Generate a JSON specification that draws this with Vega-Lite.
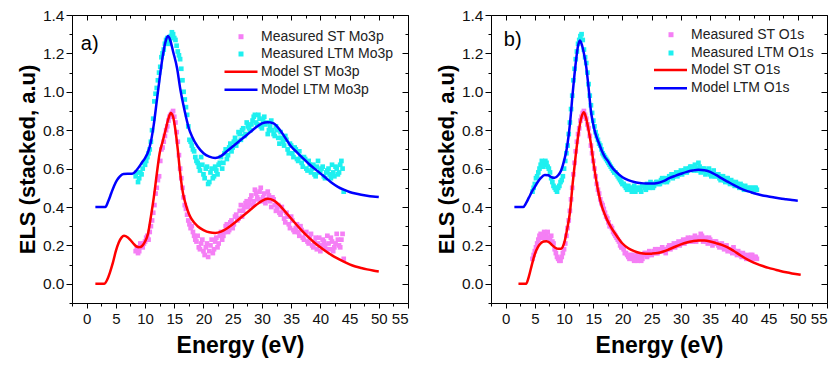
{
"$schema": "https://vega.github.io/schema/vega-lite/v6.json",
"padding": {"left": 15, "top": 7, "right": 2, "bottom": 2},
"spacing": 25,
"config": {
  "font": "Liberation Sans",
  "view": {"stroke": "#000", "strokeWidth": 1},
  "axis": {"labelFont": "Liberation Sans", "titleFont": "Liberation Sans", "labelColor": "#111", "titleColor": "#000", "tickColor": "#000", "grid": false, "domain": false, "tickWidth": 1},
  "legend": {"labelFont": "Liberation Sans", "labelColor": "#222", "labelFontSize": 14}
},
"datasets": {
"measA": [
{"E":8.4,"ST":0.17,"LTM":0.56},{"E":8.8,"ST":0.16,"LTM":0.53},{"E":9.2,"ST":0.21,"LTM":0.58},{"E":9.6,"ST":0.19,"LTM":0.6},{"E":10.0,"ST":0.22,"LTM":0.62},{"E":10.4,"ST":0.25,"LTM":0.66},{"E":10.8,"ST":0.27,"LTM":0.7},{"E":11.2,"ST":0.33,"LTM":0.8},{"E":11.6,"ST":0.41,"LTM":0.95},{"E":12.0,"ST":0.5,"LTM":1.02},{"E":12.4,"ST":0.56,"LTM":1.1},{"E":12.8,"ST":0.7,"LTM":1.18},{"E":13.2,"ST":0.74,"LTM":1.22},{"E":13.6,"ST":0.8,"LTM":1.27},{"E":14.0,"ST":0.85,"LTM":1.25},{"E":14.4,"ST":0.88,"LTM":1.29},{"E":14.8,"ST":0.9,"LTM":1.3},{"E":15.2,"ST":0.84,"LTM":1.27},{"E":15.6,"ST":0.74,"LTM":1.21},{"E":16.0,"ST":0.6,"LTM":1.17},{"E":16.4,"ST":0.5,"LTM":1.06},{"E":16.8,"ST":0.41,"LTM":0.96},{"E":17.2,"ST":0.36,"LTM":0.88},{"E":17.6,"ST":0.31,"LTM":0.75},{"E":18.0,"ST":0.3,"LTM":0.72},{"E":18.4,"ST":0.25,"LTM":0.69},{"E":18.8,"ST":0.22,"LTM":0.64},{"E":19.2,"ST":0.19,"LTM":0.61},{"E":19.6,"ST":0.21,"LTM":0.66},{"E":20.0,"ST":0.17,"LTM":0.57},{"E":20.4,"ST":0.19,"LTM":0.6},{"E":20.8,"ST":0.14,"LTM":0.52},{"E":21.2,"ST":0.2,"LTM":0.58},{"E":21.6,"ST":0.16,"LTM":0.55},{"E":22.0,"ST":0.22,"LTM":0.61},{"E":22.4,"ST":0.19,"LTM":0.57},{"E":22.8,"ST":0.25,"LTM":0.63},{"E":23.2,"ST":0.23,"LTM":0.6},{"E":23.6,"ST":0.27,"LTM":0.68},{"E":24.0,"ST":0.31,"LTM":0.65},{"E":24.4,"ST":0.28,"LTM":0.71},{"E":24.8,"ST":0.33,"LTM":0.69},{"E":25.2,"ST":0.31,"LTM":0.74},{"E":25.6,"ST":0.36,"LTM":0.72},{"E":26.0,"ST":0.34,"LTM":0.79},{"E":26.4,"ST":0.41,"LTM":0.75},{"E":26.8,"ST":0.38,"LTM":0.81},{"E":27.2,"ST":0.42,"LTM":0.78},{"E":27.6,"ST":0.4,"LTM":0.82},{"E":28.0,"ST":0.44,"LTM":0.8},{"E":28.4,"ST":0.41,"LTM":0.85},{"E":28.8,"ST":0.49,"LTM":0.88},{"E":29.2,"ST":0.45,"LTM":0.83},{"E":29.6,"ST":0.48,"LTM":0.86},{"E":30.0,"ST":0.43,"LTM":0.81},{"E":30.4,"ST":0.47,"LTM":0.87},{"E":30.8,"ST":0.44,"LTM":0.84},{"E":31.2,"ST":0.46,"LTM":0.8},{"E":31.6,"ST":0.4,"LTM":0.85},{"E":32.0,"ST":0.44,"LTM":0.78},{"E":32.4,"ST":0.38,"LTM":0.82},{"E":32.8,"ST":0.41,"LTM":0.76},{"E":33.2,"ST":0.36,"LTM":0.79},{"E":33.6,"ST":0.38,"LTM":0.74},{"E":34.0,"ST":0.32,"LTM":0.77},{"E":34.4,"ST":0.35,"LTM":0.7},{"E":34.8,"ST":0.29,"LTM":0.73},{"E":35.2,"ST":0.33,"LTM":0.68},{"E":35.6,"ST":0.27,"LTM":0.71},{"E":36.0,"ST":0.31,"LTM":0.65},{"E":36.4,"ST":0.25,"LTM":0.69},{"E":36.8,"ST":0.28,"LTM":0.63},{"E":37.2,"ST":0.23,"LTM":0.66},{"E":37.6,"ST":0.27,"LTM":0.6},{"E":38.0,"ST":0.21,"LTM":0.64},{"E":38.4,"ST":0.26,"LTM":0.58},{"E":38.8,"ST":0.19,"LTM":0.62},{"E":39.2,"ST":0.24,"LTM":0.56},{"E":39.6,"ST":0.21,"LTM":0.64},{"E":40.0,"ST":0.17,"LTM":0.59},{"E":40.4,"ST":0.23,"LTM":0.61},{"E":40.8,"ST":0.2,"LTM":0.55},{"E":41.2,"ST":0.25,"LTM":0.59},{"E":41.6,"ST":0.18,"LTM":0.57},{"E":42.0,"ST":0.22,"LTM":0.62},{"E":42.4,"ST":0.19,"LTM":0.56},{"E":42.8,"ST":0.26,"LTM":0.6},{"E":43.2,"ST":0.2,"LTM":0.58},{"E":43.6,"ST":0.23,"LTM":0.64},{"E":44.0,"ST":0.13,"LTM":0.48},
{"E":8.6,"ST":0.19,"LTM":0.58},{"E":9.0,"ST":0.17,"LTM":0.55},{"E":9.4,"ST":0.2,"LTM":0.57},{"E":9.8,"ST":0.21,"LTM":0.63},{"E":10.2,"ST":0.24,"LTM":0.64},{"E":10.6,"ST":0.23,"LTM":0.68},{"E":11.0,"ST":0.3,"LTM":0.74},{"E":11.4,"ST":0.37,"LTM":0.86},{"E":11.8,"ST":0.47,"LTM":0.99},{"E":12.2,"ST":0.54,"LTM":1.06},{"E":12.6,"ST":0.64,"LTM":1.13},{"E":13.0,"ST":0.71,"LTM":1.2},{"E":13.4,"ST":0.77,"LTM":1.25},{"E":13.8,"ST":0.82,"LTM":1.28},{"E":14.2,"ST":0.87,"LTM":1.27},{"E":14.6,"ST":0.89,"LTM":1.31},{"E":15.0,"ST":0.87,"LTM":1.28},{"E":15.4,"ST":0.79,"LTM":1.24},{"E":15.8,"ST":0.67,"LTM":1.19},{"E":16.2,"ST":0.55,"LTM":1.12},{"E":16.6,"ST":0.45,"LTM":1.0},{"E":17.0,"ST":0.39,"LTM":0.92},{"E":17.4,"ST":0.33,"LTM":0.82},{"E":17.8,"ST":0.29,"LTM":0.74},{"E":18.2,"ST":0.27,"LTM":0.7},{"E":18.6,"ST":0.23,"LTM":0.66},{"E":19.0,"ST":0.25,"LTM":0.63},{"E":19.4,"ST":0.18,"LTM":0.59},{"E":19.8,"ST":0.23,"LTM":0.62},{"E":20.2,"ST":0.15,"LTM":0.55},{"E":20.6,"ST":0.21,"LTM":0.61},{"E":21.0,"ST":0.17,"LTM":0.53},{"E":21.4,"ST":0.23,"LTM":0.6},{"E":21.8,"ST":0.18,"LTM":0.56},{"E":22.2,"ST":0.24,"LTM":0.59},{"E":22.6,"ST":0.21,"LTM":0.62},{"E":23.0,"ST":0.27,"LTM":0.66},{"E":23.4,"ST":0.25,"LTM":0.63},{"E":23.8,"ST":0.3,"LTM":0.7},{"E":24.2,"ST":0.27,"LTM":0.67},{"E":24.6,"ST":0.32,"LTM":0.73},{"E":25.0,"ST":0.29,"LTM":0.71},{"E":25.4,"ST":0.35,"LTM":0.76},{"E":25.8,"ST":0.33,"LTM":0.74},{"E":26.2,"ST":0.38,"LTM":0.78},{"E":26.6,"ST":0.35,"LTM":0.8},{"E":27.0,"ST":0.4,"LTM":0.77},{"E":27.4,"ST":0.43,"LTM":0.84},{"E":27.8,"ST":0.42,"LTM":0.81},{"E":28.2,"ST":0.46,"LTM":0.83},{"E":28.6,"ST":0.43,"LTM":0.87},{"E":29.0,"ST":0.47,"LTM":0.84},{"E":29.4,"ST":0.44,"LTM":0.88},{"E":29.8,"ST":0.5,"LTM":0.82},{"E":30.2,"ST":0.45,"LTM":0.85},{"E":30.6,"ST":0.42,"LTM":0.83},{"E":31.0,"ST":0.48,"LTM":0.78},{"E":31.4,"ST":0.43,"LTM":0.82},{"E":31.8,"ST":0.45,"LTM":0.8},{"E":32.2,"ST":0.41,"LTM":0.77},{"E":32.6,"ST":0.39,"LTM":0.8},{"E":33.0,"ST":0.37,"LTM":0.73},{"E":33.4,"ST":0.4,"LTM":0.76},{"E":33.8,"ST":0.34,"LTM":0.72},{"E":34.2,"ST":0.37,"LTM":0.75},{"E":34.6,"ST":0.31,"LTM":0.68},{"E":35.0,"ST":0.35,"LTM":0.72},{"E":35.4,"ST":0.28,"LTM":0.66},{"E":35.8,"ST":0.29,"LTM":0.7},{"E":36.2,"ST":0.27,"LTM":0.64},{"E":36.6,"ST":0.3,"LTM":0.66},{"E":37.0,"ST":0.24,"LTM":0.61},{"E":37.4,"ST":0.26,"LTM":0.65},{"E":37.8,"ST":0.22,"LTM":0.59},{"E":38.2,"ST":0.24,"LTM":0.62},{"E":38.6,"ST":0.2,"LTM":0.6},{"E":39.0,"ST":0.22,"LTM":0.57},{"E":39.4,"ST":0.18,"LTM":0.61},{"E":39.8,"ST":0.24,"LTM":0.58},{"E":40.2,"ST":0.2,"LTM":0.6},{"E":40.6,"ST":0.22,"LTM":0.56},{"E":41.0,"ST":0.18,"LTM":0.58},{"E":41.4,"ST":0.21,"LTM":0.6},{"E":41.8,"ST":0.24,"LTM":0.55},{"E":42.2,"ST":0.17,"LTM":0.58},{"E":42.6,"ST":0.21,"LTM":0.61},{"E":43.0,"ST":0.23,"LTM":0.57},{"E":43.4,"ST":0.19,"LTM":0.62},{"E":43.8,"ST":0.26,"LTM":0.6}
],
"modelA": [
{"m":"Model ST","E":1.5,"v":0},{"m":"Model ST","E":3.0,"v":0},{"m":"Model ST","E":3.5,"v":0.02},{"m":"Model ST","E":4,"v":0.06},{"m":"Model ST","E":4.5,"v":0.11},{"m":"Model ST","E":5,"v":0.17},{"m":"Model ST","E":5.5,"v":0.215},{"m":"Model ST","E":6,"v":0.242},{"m":"Model ST","E":6.4,"v":0.25},{"m":"Model ST","E":7,"v":0.243},{"m":"Model ST","E":7.5,"v":0.228},{"m":"Model ST","E":8,"v":0.21},{"m":"Model ST","E":8.5,"v":0.195},{"m":"Model ST","E":9,"v":0.19},{"m":"Model ST","E":9.5,"v":0.197},{"m":"Model ST","E":10,"v":0.22},{"m":"Model ST","E":10.5,"v":0.26},{"m":"Model ST","E":11,"v":0.35},{"m":"Model ST","E":11.5,"v":0.45},{"m":"Model ST","E":12,"v":0.57},{"m":"Model ST","E":12.5,"v":0.68},{"m":"Model ST","E":13,"v":0.74},{"m":"Model ST","E":13.5,"v":0.8},{"m":"Model ST","E":14,"v":0.86},{"m":"Model ST","E":14.4,"v":0.89},{"m":"Model ST","E":14.8,"v":0.87},{"m":"Model ST","E":15.2,"v":0.8},{"m":"Model ST","E":15.6,"v":0.7},{"m":"Model ST","E":16,"v":0.58},{"m":"Model ST","E":16.5,"v":0.47},{"m":"Model ST","E":17,"v":0.41},{"m":"Model ST","E":17.5,"v":0.365},{"m":"Model ST","E":18,"v":0.335},{"m":"Model ST","E":19,"v":0.3},{"m":"Model ST","E":20,"v":0.28},{"m":"Model ST","E":21,"v":0.268},{"m":"Model ST","E":22,"v":0.265},{"m":"Model ST","E":23,"v":0.272},{"m":"Model ST","E":24,"v":0.288},{"m":"Model ST","E":25,"v":0.31},{"m":"Model ST","E":26,"v":0.335},{"m":"Model ST","E":27,"v":0.36},{"m":"Model ST","E":28,"v":0.385},{"m":"Model ST","E":29,"v":0.41},{"m":"Model ST","E":30,"v":0.432},{"m":"Model ST","E":31,"v":0.443},{"m":"Model ST","E":32,"v":0.435},{"m":"Model ST","E":33,"v":0.41},{"m":"Model ST","E":34,"v":0.375},{"m":"Model ST","E":35,"v":0.34},{"m":"Model ST","E":36,"v":0.305},{"m":"Model ST","E":37,"v":0.272},{"m":"Model ST","E":38,"v":0.242},{"m":"Model ST","E":39,"v":0.214},{"m":"Model ST","E":40,"v":0.19},{"m":"Model ST","E":41,"v":0.168},{"m":"Model ST","E":42,"v":0.148},{"m":"Model ST","E":43,"v":0.131},{"m":"Model ST","E":44,"v":0.115},{"m":"Model ST","E":45,"v":0.101},{"m":"Model ST","E":46,"v":0.09},{"m":"Model ST","E":47,"v":0.082},{"m":"Model ST","E":48,"v":0.075},{"m":"Model ST","E":49,"v":0.069},{"m":"Model ST","E":50,"v":0.064},
{"m":"Model LTM","E":1.5,"v":0.4},{"m":"Model LTM","E":3.2,"v":0.4},{"m":"Model LTM","E":3.7,"v":0.43},{"m":"Model LTM","E":4.2,"v":0.47},{"m":"Model LTM","E":4.7,"v":0.51},{"m":"Model LTM","E":5.2,"v":0.54},{"m":"Model LTM","E":5.7,"v":0.56},{"m":"Model LTM","E":6.3,"v":0.572},{"m":"Model LTM","E":7,"v":0.573},{"m":"Model LTM","E":7.8,"v":0.573},{"m":"Model LTM","E":8.5,"v":0.59},{"m":"Model LTM","E":9,"v":0.61},{"m":"Model LTM","E":9.5,"v":0.633},{"m":"Model LTM","E":10,"v":0.655},{"m":"Model LTM","E":10.5,"v":0.685},{"m":"Model LTM","E":11,"v":0.74},{"m":"Model LTM","E":11.5,"v":0.83},{"m":"Model LTM","E":12,"v":0.95},{"m":"Model LTM","E":12.5,"v":1.07},{"m":"Model LTM","E":13,"v":1.18},{"m":"Model LTM","E":13.5,"v":1.26},{"m":"Model LTM","E":13.9,"v":1.29},{"m":"Model LTM","E":14.3,"v":1.27},{"m":"Model LTM","E":14.8,"v":1.21},{"m":"Model LTM","E":15.5,"v":1.12},{"m":"Model LTM","E":16,"v":1.02},{"m":"Model LTM","E":16.5,"v":0.94},{"m":"Model LTM","E":17,"v":0.87},{"m":"Model LTM","E":17.5,"v":0.81},{"m":"Model LTM","E":18,"v":0.77},{"m":"Model LTM","E":19,"v":0.715},{"m":"Model LTM","E":20,"v":0.68},{"m":"Model LTM","E":21,"v":0.662},{"m":"Model LTM","E":22,"v":0.655},{"m":"Model LTM","E":23,"v":0.665},{"m":"Model LTM","E":24,"v":0.69},{"m":"Model LTM","E":25,"v":0.715},{"m":"Model LTM","E":26,"v":0.74},{"m":"Model LTM","E":27,"v":0.765},{"m":"Model LTM","E":28,"v":0.79},{"m":"Model LTM","E":29,"v":0.815},{"m":"Model LTM","E":30,"v":0.835},{"m":"Model LTM","E":31,"v":0.842},{"m":"Model LTM","E":32,"v":0.835},{"m":"Model LTM","E":33,"v":0.805},{"m":"Model LTM","E":34,"v":0.76},{"m":"Model LTM","E":35,"v":0.715},{"m":"Model LTM","E":36,"v":0.685},{"m":"Model LTM","E":37,"v":0.655},{"m":"Model LTM","E":38,"v":0.625},{"m":"Model LTM","E":39,"v":0.6},{"m":"Model LTM","E":40,"v":0.575},{"m":"Model LTM","E":41,"v":0.55},{"m":"Model LTM","E":42,"v":0.525},{"m":"Model LTM","E":43,"v":0.505},{"m":"Model LTM","E":44,"v":0.49},{"m":"Model LTM","E":45,"v":0.478},{"m":"Model LTM","E":46,"v":0.47},{"m":"Model LTM","E":47,"v":0.464},{"m":"Model LTM","E":48,"v":0.459},{"m":"Model LTM","E":49,"v":0.455},{"m":"Model LTM","E":50,"v":0.452}
],
"measB": [
{"E":4.6,"ST":0.13,"LTM":0.48},{"E":5.0,"ST":0.17,"LTM":0.52},{"E":5.4,"ST":0.21,"LTM":0.56},{"E":5.8,"ST":0.25,"LTM":0.6},{"E":6.2,"ST":0.24,"LTM":0.64},{"E":6.6,"ST":0.27,"LTM":0.62},{"E":7.0,"ST":0.26,"LTM":0.63},{"E":7.4,"ST":0.24,"LTM":0.6},{"E":7.8,"ST":0.25,"LTM":0.55},{"E":8.2,"ST":0.21,"LTM":0.51},{"E":8.6,"ST":0.16,"LTM":0.49},{"E":9.0,"ST":0.13,"LTM":0.5},{"E":9.4,"ST":0.12,"LTM":0.53},{"E":9.8,"ST":0.16,"LTM":0.56},{"E":10.2,"ST":0.21,"LTM":0.64},{"E":10.6,"ST":0.29,"LTM":0.72},{"E":11.0,"ST":0.38,"LTM":0.84},{"E":11.4,"ST":0.5,"LTM":0.98},{"E":11.8,"ST":0.63,"LTM":1.12},{"E":12.2,"ST":0.74,"LTM":1.21},{"E":12.6,"ST":0.81,"LTM":1.27},{"E":13.0,"ST":0.87,"LTM":1.3},{"E":13.4,"ST":0.9,"LTM":1.22},{"E":13.8,"ST":0.86,"LTM":1.15},{"E":14.2,"ST":0.81,"LTM":1.04},{"E":14.6,"ST":0.72,"LTM":0.93},{"E":15.0,"ST":0.64,"LTM":0.85},{"E":15.4,"ST":0.56,"LTM":0.79},{"E":15.8,"ST":0.49,"LTM":0.75},{"E":16.2,"ST":0.44,"LTM":0.72},{"E":16.6,"ST":0.41,"LTM":0.68},{"E":17.0,"ST":0.37,"LTM":0.66},{"E":17.4,"ST":0.34,"LTM":0.64},{"E":17.8,"ST":0.3,"LTM":0.62},{"E":18.2,"ST":0.29,"LTM":0.6},{"E":18.6,"ST":0.26,"LTM":0.58},{"E":19.0,"ST":0.24,"LTM":0.57},{"E":19.4,"ST":0.22,"LTM":0.55},{"E":19.8,"ST":0.19,"LTM":0.53},{"E":20.2,"ST":0.18,"LTM":0.52},{"E":20.6,"ST":0.16,"LTM":0.5},{"E":21.0,"ST":0.14,"LTM":0.51},{"E":21.4,"ST":0.15,"LTM":0.49},{"E":21.8,"ST":0.13,"LTM":0.5},{"E":22.2,"ST":0.14,"LTM":0.48},{"E":22.6,"ST":0.12,"LTM":0.5},{"E":23.0,"ST":0.15,"LTM":0.49},{"E":23.4,"ST":0.13,"LTM":0.51},{"E":23.8,"ST":0.16,"LTM":0.5},{"E":24.2,"ST":0.14,"LTM":0.52},{"E":24.6,"ST":0.17,"LTM":0.5},{"E":25.0,"ST":0.15,"LTM":0.52},{"E":25.4,"ST":0.17,"LTM":0.51},{"E":25.8,"ST":0.16,"LTM":0.53},{"E":26.2,"ST":0.18,"LTM":0.52},{"E":26.6,"ST":0.17,"LTM":0.54},{"E":27.0,"ST":0.18,"LTM":0.53},{"E":27.4,"ST":0.16,"LTM":0.55},{"E":27.8,"ST":0.19,"LTM":0.54},{"E":28.2,"ST":0.18,"LTM":0.56},{"E":28.6,"ST":0.2,"LTM":0.55},{"E":29.0,"ST":0.19,"LTM":0.57},{"E":29.4,"ST":0.21,"LTM":0.56},{"E":29.8,"ST":0.2,"LTM":0.58},{"E":30.2,"ST":0.22,"LTM":0.57},{"E":30.6,"ST":0.21,"LTM":0.59},{"E":31.0,"ST":0.23,"LTM":0.58},{"E":31.4,"ST":0.22,"LTM":0.6},{"E":31.8,"ST":0.24,"LTM":0.61},{"E":32.2,"ST":0.23,"LTM":0.59},{"E":32.6,"ST":0.22,"LTM":0.6},{"E":33.0,"ST":0.24,"LTM":0.63},{"E":33.4,"ST":0.26,"LTM":0.58},{"E":33.8,"ST":0.22,"LTM":0.6},{"E":34.2,"ST":0.24,"LTM":0.57},{"E":34.6,"ST":0.21,"LTM":0.59},{"E":35.0,"ST":0.23,"LTM":0.57},{"E":35.4,"ST":0.2,"LTM":0.58},{"E":35.8,"ST":0.22,"LTM":0.56},{"E":36.2,"ST":0.21,"LTM":0.57},{"E":36.6,"ST":0.19,"LTM":0.55},{"E":37.0,"ST":0.21,"LTM":0.56},{"E":37.4,"ST":0.18,"LTM":0.54},{"E":37.8,"ST":0.2,"LTM":0.55},{"E":38.2,"ST":0.18,"LTM":0.53},{"E":38.6,"ST":0.17,"LTM":0.54},{"E":39.0,"ST":0.19,"LTM":0.52},{"E":39.4,"ST":0.16,"LTM":0.53},{"E":39.8,"ST":0.17,"LTM":0.51},{"E":40.2,"ST":0.15,"LTM":0.52},{"E":40.6,"ST":0.16,"LTM":0.5},{"E":41.0,"ST":0.14,"LTM":0.51},{"E":41.4,"ST":0.15,"LTM":0.49},{"E":41.8,"ST":0.13,"LTM":0.5},{"E":42.2,"ST":0.15,"LTM":0.49},{"E":42.6,"ST":0.14,"LTM":0.5},{"E":43.0,"ST":0.13,"LTM":0.49},
{"E":4.8,"ST":0.15,"LTM":0.5},{"E":5.2,"ST":0.19,"LTM":0.55},{"E":5.6,"ST":0.23,"LTM":0.58},{"E":6.0,"ST":0.26,"LTM":0.62},{"E":6.4,"ST":0.25,"LTM":0.61},{"E":6.8,"ST":0.24,"LTM":0.64},{"E":7.2,"ST":0.27,"LTM":0.61},{"E":7.6,"ST":0.23,"LTM":0.58},{"E":8.0,"ST":0.22,"LTM":0.53},{"E":8.4,"ST":0.18,"LTM":0.5},{"E":8.8,"ST":0.14,"LTM":0.48},{"E":9.2,"ST":0.12,"LTM":0.51},{"E":9.6,"ST":0.14,"LTM":0.54},{"E":10.0,"ST":0.18,"LTM":0.6},{"E":10.4,"ST":0.25,"LTM":0.68},{"E":10.8,"ST":0.33,"LTM":0.78},{"E":11.2,"ST":0.44,"LTM":0.91},{"E":11.6,"ST":0.57,"LTM":1.06},{"E":12.0,"ST":0.69,"LTM":1.17},{"E":12.4,"ST":0.78,"LTM":1.25},{"E":12.8,"ST":0.85,"LTM":1.29},{"E":13.2,"ST":0.89,"LTM":1.27},{"E":13.6,"ST":0.88,"LTM":1.18},{"E":14.0,"ST":0.83,"LTM":1.1},{"E":14.4,"ST":0.77,"LTM":0.98},{"E":14.8,"ST":0.68,"LTM":0.89},{"E":15.2,"ST":0.6,"LTM":0.82},{"E":15.6,"ST":0.52,"LTM":0.77},{"E":16.0,"ST":0.47,"LTM":0.73},{"E":16.4,"ST":0.42,"LTM":0.7},{"E":16.8,"ST":0.39,"LTM":0.67},{"E":17.2,"ST":0.35,"LTM":0.65},{"E":17.6,"ST":0.32,"LTM":0.63},{"E":18.0,"ST":0.3,"LTM":0.61},{"E":18.4,"ST":0.27,"LTM":0.59},{"E":18.8,"ST":0.25,"LTM":0.58},{"E":19.2,"ST":0.23,"LTM":0.56},{"E":19.6,"ST":0.2,"LTM":0.54},{"E":20.0,"ST":0.19,"LTM":0.52},{"E":20.4,"ST":0.16,"LTM":0.51},{"E":20.8,"ST":0.15,"LTM":0.49},{"E":21.2,"ST":0.13,"LTM":0.5},{"E":21.6,"ST":0.15,"LTM":0.48},{"E":22.0,"ST":0.12,"LTM":0.51},{"E":22.4,"ST":0.15,"LTM":0.49},{"E":22.8,"ST":0.14,"LTM":0.5},{"E":23.2,"ST":0.12,"LTM":0.48},{"E":23.6,"ST":0.15,"LTM":0.51},{"E":24.0,"ST":0.16,"LTM":0.49},{"E":24.4,"ST":0.15,"LTM":0.51},{"E":24.8,"ST":0.16,"LTM":0.53},{"E":25.2,"ST":0.16,"LTM":0.5},{"E":25.6,"ST":0.18,"LTM":0.52},{"E":26.0,"ST":0.16,"LTM":0.53},{"E":26.4,"ST":0.17,"LTM":0.52},{"E":26.8,"ST":0.19,"LTM":0.55},{"E":27.2,"ST":0.17,"LTM":0.54},{"E":27.6,"ST":0.18,"LTM":0.53},{"E":28.0,"ST":0.2,"LTM":0.56},{"E":28.4,"ST":0.19,"LTM":0.57},{"E":28.8,"ST":0.21,"LTM":0.56},{"E":29.2,"ST":0.2,"LTM":0.58},{"E":29.6,"ST":0.22,"LTM":0.57},{"E":30.0,"ST":0.21,"LTM":0.59},{"E":30.4,"ST":0.23,"LTM":0.58},{"E":30.8,"ST":0.22,"LTM":0.6},{"E":31.2,"ST":0.24,"LTM":0.59},{"E":31.6,"ST":0.23,"LTM":0.61},{"E":32.0,"ST":0.22,"LTM":0.6},{"E":32.4,"ST":0.25,"LTM":0.62},{"E":32.8,"ST":0.23,"LTM":0.59},{"E":33.2,"ST":0.24,"LTM":0.61},{"E":33.6,"ST":0.25,"LTM":0.59},{"E":34.0,"ST":0.23,"LTM":0.6},{"E":34.4,"ST":0.22,"LTM":0.58},{"E":34.8,"ST":0.24,"LTM":0.6},{"E":35.2,"ST":0.22,"LTM":0.56},{"E":35.6,"ST":0.21,"LTM":0.59},{"E":36.0,"ST":0.22,"LTM":0.56},{"E":36.4,"ST":0.2,"LTM":0.57},{"E":36.8,"ST":0.2,"LTM":0.54},{"E":37.2,"ST":0.19,"LTM":0.56},{"E":37.6,"ST":0.19,"LTM":0.53},{"E":38.0,"ST":0.17,"LTM":0.55},{"E":38.4,"ST":0.18,"LTM":0.52},{"E":38.8,"ST":0.16,"LTM":0.53},{"E":39.2,"ST":0.17,"LTM":0.51},{"E":39.6,"ST":0.15,"LTM":0.52},{"E":40.0,"ST":0.16,"LTM":0.5},{"E":40.4,"ST":0.14,"LTM":0.51},{"E":40.8,"ST":0.15,"LTM":0.49},{"E":41.2,"ST":0.13,"LTM":0.5},{"E":41.6,"ST":0.14,"LTM":0.49},{"E":42.0,"ST":0.15,"LTM":0.5},{"E":42.4,"ST":0.13,"LTM":0.48},{"E":42.8,"ST":0.14,"LTM":0.5}
],
"modelB": [
{"m":"Model ST","E":2.2,"v":0},{"m":"Model ST","E":3.5,"v":0},{"m":"Model ST","E":4,"v":0.04},{"m":"Model ST","E":4.5,"v":0.1},{"m":"Model ST","E":5,"v":0.155},{"m":"Model ST","E":5.5,"v":0.19},{"m":"Model ST","E":6,"v":0.21},{"m":"Model ST","E":6.5,"v":0.22},{"m":"Model ST","E":7,"v":0.222},{"m":"Model ST","E":7.5,"v":0.215},{"m":"Model ST","E":8,"v":0.2},{"m":"Model ST","E":8.5,"v":0.188},{"m":"Model ST","E":9,"v":0.182},{"m":"Model ST","E":9.5,"v":0.183},{"m":"Model ST","E":10,"v":0.21},{"m":"Model ST","E":10.5,"v":0.28},{"m":"Model ST","E":11,"v":0.37},{"m":"Model ST","E":11.5,"v":0.53},{"m":"Model ST","E":12,"v":0.67},{"m":"Model ST","E":12.5,"v":0.79},{"m":"Model ST","E":13,"v":0.87},{"m":"Model ST","E":13.4,"v":0.894},{"m":"Model ST","E":13.8,"v":0.86},{"m":"Model ST","E":14.2,"v":0.8},{"m":"Model ST","E":14.6,"v":0.73},{"m":"Model ST","E":15,"v":0.64},{"m":"Model ST","E":15.5,"v":0.54},{"m":"Model ST","E":16,"v":0.46},{"m":"Model ST","E":16.5,"v":0.4},{"m":"Model ST","E":17,"v":0.36},{"m":"Model ST","E":17.5,"v":0.325},{"m":"Model ST","E":18,"v":0.297},{"m":"Model ST","E":19,"v":0.25},{"m":"Model ST","E":20,"v":0.21},{"m":"Model ST","E":21,"v":0.185},{"m":"Model ST","E":22,"v":0.17},{"m":"Model ST","E":23,"v":0.16},{"m":"Model ST","E":24,"v":0.156},{"m":"Model ST","E":25,"v":0.157},{"m":"Model ST","E":26,"v":0.16},{"m":"Model ST","E":27,"v":0.168},{"m":"Model ST","E":28,"v":0.18},{"m":"Model ST","E":29,"v":0.193},{"m":"Model ST","E":30,"v":0.205},{"m":"Model ST","E":31,"v":0.215},{"m":"Model ST","E":32,"v":0.222},{"m":"Model ST","E":33,"v":0.226},{"m":"Model ST","E":34,"v":0.225},{"m":"Model ST","E":35,"v":0.22},{"m":"Model ST","E":36,"v":0.212},{"m":"Model ST","E":37,"v":0.203},{"m":"Model ST","E":38,"v":0.19},{"m":"Model ST","E":39,"v":0.172},{"m":"Model ST","E":40,"v":0.152},{"m":"Model ST","E":41,"v":0.133},{"m":"Model ST","E":42,"v":0.117},{"m":"Model ST","E":43,"v":0.104},{"m":"Model ST","E":44,"v":0.093},{"m":"Model ST","E":45,"v":0.083},{"m":"Model ST","E":46,"v":0.075},{"m":"Model ST","E":47,"v":0.067},{"m":"Model ST","E":48,"v":0.06},{"m":"Model ST","E":49,"v":0.054},{"m":"Model ST","E":50.5,"v":0.047},
{"m":"Model LTM","E":1.5,"v":0.4},{"m":"Model LTM","E":3.0,"v":0.4},{"m":"Model LTM","E":3.5,"v":0.42},{"m":"Model LTM","E":4,"v":0.45},{"m":"Model LTM","E":4.5,"v":0.48},{"m":"Model LTM","E":5,"v":0.505},{"m":"Model LTM","E":5.5,"v":0.53},{"m":"Model LTM","E":6,"v":0.55},{"m":"Model LTM","E":6.7,"v":0.567},{"m":"Model LTM","E":7.3,"v":0.565},{"m":"Model LTM","E":7.8,"v":0.556},{"m":"Model LTM","E":8.4,"v":0.552},{"m":"Model LTM","E":9,"v":0.565},{"m":"Model LTM","E":9.5,"v":0.59},{"m":"Model LTM","E":10,"v":0.64},{"m":"Model LTM","E":10.5,"v":0.71},{"m":"Model LTM","E":11,"v":0.83},{"m":"Model LTM","E":11.5,"v":1.0},{"m":"Model LTM","E":12,"v":1.15},{"m":"Model LTM","E":12.4,"v":1.24},{"m":"Model LTM","E":12.7,"v":1.267},{"m":"Model LTM","E":13,"v":1.25},{"m":"Model LTM","E":13.4,"v":1.2},{"m":"Model LTM","E":13.8,"v":1.13},{"m":"Model LTM","E":14.2,"v":1.02},{"m":"Model LTM","E":14.6,"v":0.9},{"m":"Model LTM","E":15,"v":0.83},{"m":"Model LTM","E":15.5,"v":0.77},{"m":"Model LTM","E":16,"v":0.73},{"m":"Model LTM","E":16.5,"v":0.69},{"m":"Model LTM","E":17,"v":0.66},{"m":"Model LTM","E":17.5,"v":0.64},{"m":"Model LTM","E":18,"v":0.615},{"m":"Model LTM","E":19,"v":0.58},{"m":"Model LTM","E":20,"v":0.555},{"m":"Model LTM","E":21,"v":0.54},{"m":"Model LTM","E":22,"v":0.53},{"m":"Model LTM","E":23,"v":0.525},{"m":"Model LTM","E":24,"v":0.522},{"m":"Model LTM","E":25,"v":0.522},{"m":"Model LTM","E":26,"v":0.525},{"m":"Model LTM","E":27,"v":0.535},{"m":"Model LTM","E":28,"v":0.55},{"m":"Model LTM","E":29,"v":0.562},{"m":"Model LTM","E":30,"v":0.573},{"m":"Model LTM","E":31,"v":0.583},{"m":"Model LTM","E":32,"v":0.59},{"m":"Model LTM","E":33,"v":0.594},{"m":"Model LTM","E":34,"v":0.592},{"m":"Model LTM","E":35,"v":0.583},{"m":"Model LTM","E":36,"v":0.567},{"m":"Model LTM","E":37,"v":0.549},{"m":"Model LTM","E":38,"v":0.532},{"m":"Model LTM","E":39,"v":0.515},{"m":"Model LTM","E":40,"v":0.5},{"m":"Model LTM","E":41,"v":0.487},{"m":"Model LTM","E":42,"v":0.477},{"m":"Model LTM","E":43,"v":0.468},{"m":"Model LTM","E":44,"v":0.46},{"m":"Model LTM","E":45,"v":0.455},{"m":"Model LTM","E":46,"v":0.449},{"m":"Model LTM","E":47,"v":0.444},{"m":"Model LTM","E":48,"v":0.44},{"m":"Model LTM","E":49,"v":0.436},{"m":"Model LTM","E":50,"v":0.433}
]
},
"hconcat": [
{
  "width": 336, "height": 288,
  "layer": [
    {
      "data": {"name": "measA"},
      "transform": [{"fold": ["ST", "LTM"], "as": ["k", "v"]}],
      "mark": {"type": "square", "size": 22, "opacity": 1, "strokeWidth": 0},
      "encoding": {
        "x": {"field": "E", "type": "quantitative", "scale": {"domain": [-2.5, 55], "nice": false, "zero": false},
          "axis": {"orient": "bottom", "title": "Energy (eV)", "titleFontSize": 23, "titleFontWeight": "bold", "titlePadding": 8, "labelFontSize": 15, "labelPadding": 3,
            "values": [-2.5,0,2.5,5,7.5,10,12.5,15,17.5,20,22.5,25,27.5,30,32.5,35,37.5,40,42.5,45,47.5,50,52.5,55],
            "labelExpr": "datum.value % 5 == 0 ? format(datum.value, 'd') : ''",
            "tickSize": {"condition": {"test": "datum.value % 5 == 0", "value": 5}, "value": 3}}},
        "y": {"field": "v", "type": "quantitative", "scale": {"domain": [-0.1, 1.4], "nice": false, "zero": false},
          "axis": {"orient": "left", "title": "ELS (stacked, a.u)", "titleFontSize": 22, "titleFontWeight": "bold", "titlePadding": 3, "labelFontSize": 15.5, "labelPadding": 2,
            "values": [-0.1,0,0.1,0.2,0.3,0.4,0.5,0.6,0.7,0.8,0.9,1,1.1,1.2,1.3,1.4],
            "labelExpr": "round(datum.value*10) % 2 == 0 ? format(datum.value, '.1f') : ''",
            "tickSize": {"condition": {"test": "round(datum.value*10) % 2 == 0", "value": 6}, "value": 3}}},
        "fill": {"field": "k", "type": "nominal", "scale": {"domain": ["ST", "LTM"], "range": ["#f57ff5", "#1ef0f0"]},
          "legend": {"orient": "none", "legendX": 162, "legendY": 14.7, "title": null, "symbolType": "square", "symbolSize": 25, "symbolStrokeWidth": 0, "labelOffset": 13, "labelFontSize": 14, "padding": 0, "rowPadding": 3.3,
            "labelExpr": "'Measured ' + datum.label + ' Mo3p'"}}
      }
    },
    {
      "data": {"name": "modelA"},
      "mark": {"type": "line", "strokeWidth": 2.5, "interpolate": "monotone"},
      "encoding": {
        "x": {"field": "E", "type": "quantitative",
          "axis": {"orient": "top", "labels": false, "title": null,
            "values": [-2.5,0,2.5,5,7.5,10,12.5,15,17.5,20,22.5,25,27.5,30,32.5,35,37.5,40,42.5,45,47.5,50,52.5,55],
            "tickSize": {"condition": {"test": "datum.value % 5 == 0", "value": -5}, "value": -3}}},
        "y": {"field": "v", "type": "quantitative",
          "axis": {"orient": "right", "labels": false, "title": null,
            "values": [-0.1,0,0.1,0.2,0.3,0.4,0.5,0.6,0.7,0.8,0.9,1,1.1,1.2,1.3,1.4],
            "tickSize": {"condition": {"test": "round(datum.value*10) % 2 == 0", "value": -6}, "value": -3}}},
        "stroke": {"field": "m", "type": "nominal", "scale": {"domain": ["Model ST", "Model LTM"], "range": ["#ff0000", "#0000ff"]},
          "legend": {"orient": "none", "legendX": 162, "legendY": 49.7, "title": null, "symbolType": "M-3.3,0H3.3", "symbolSize": 100, "symbolStrokeWidth": 2.5, "symbolFillColor": "transparent", "labelOffset": 13, "labelFontSize": 14, "padding": 0, "rowPadding": 4,
            "labelExpr": "datum.label + ' Mo3p'"}}
      }
    },
    {
      "data": {"values": [{}]},
      "mark": {"type": "text", "fontSize": 20, "align": "left", "baseline": "alphabetic", "color": "#000"},
      "encoding": {"x": {"datum": -1.0, "type": "quantitative", "axis": null}, "y": {"datum": 1.22, "type": "quantitative", "axis": null}, "text": {"value": "a)"}}
    }
  ],
  "resolve": {"axis": {"x": "independent", "y": "independent"}}
},
{
  "width": 336, "height": 288,
  "layer": [
    {
      "data": {"name": "measB"},
      "transform": [{"fold": ["ST", "LTM"], "as": ["k", "v"]}],
      "mark": {"type": "square", "size": 22, "opacity": 1, "strokeWidth": 0},
      "encoding": {
        "x": {"field": "E", "type": "quantitative", "scale": {"domain": [-2.5, 55], "nice": false, "zero": false},
          "axis": {"orient": "bottom", "title": "Energy (eV)", "titleFontSize": 23, "titleFontWeight": "bold", "titlePadding": 8, "labelFontSize": 15, "labelPadding": 3,
            "values": [-2.5,0,2.5,5,7.5,10,12.5,15,17.5,20,22.5,25,27.5,30,32.5,35,37.5,40,42.5,45,47.5,50,52.5,55],
            "labelExpr": "datum.value % 5 == 0 ? format(datum.value, 'd') : ''",
            "tickSize": {"condition": {"test": "datum.value % 5 == 0", "value": 5}, "value": 3}}},
        "y": {"field": "v", "type": "quantitative", "scale": {"domain": [-0.1, 1.4], "nice": false, "zero": false},
          "axis": {"orient": "left", "title": "ELS (stacked, a.u)", "titleFontSize": 22, "titleFontWeight": "bold", "titlePadding": 3, "labelFontSize": 15.5, "labelPadding": 2,
            "values": [-0.1,0,0.1,0.2,0.3,0.4,0.5,0.6,0.7,0.8,0.9,1,1.1,1.2,1.3,1.4],
            "labelExpr": "round(datum.value*10) % 2 == 0 ? format(datum.value, '.1f') : ''",
            "tickSize": {"condition": {"test": "round(datum.value*10) % 2 == 0", "value": 6}, "value": 3}}},
        "fill": {"field": "k", "type": "nominal", "scale": {"domain": ["ST", "LTM"], "range": ["#f57ff5", "#1ef0f0"]},
          "legend": {"orient": "none", "legendX": 173, "legendY": 12.7, "title": null, "symbolType": "square", "symbolSize": 25, "symbolStrokeWidth": 0, "labelOffset": 13, "labelFontSize": 14, "padding": 0, "rowPadding": 4.3,
            "labelExpr": "'Measured ' + datum.label + ' O1s'"}}
      }
    },
    {
      "data": {"name": "modelB"},
      "mark": {"type": "line", "strokeWidth": 2.5, "interpolate": "monotone"},
      "encoding": {
        "x": {"field": "E", "type": "quantitative",
          "axis": {"orient": "top", "labels": false, "title": null,
            "values": [-2.5,0,2.5,5,7.5,10,12.5,15,17.5,20,22.5,25,27.5,30,32.5,35,37.5,40,42.5,45,47.5,50,52.5,55],
            "tickSize": {"condition": {"test": "datum.value % 5 == 0", "value": -5}, "value": -3}}},
        "y": {"field": "v", "type": "quantitative",
          "axis": {"orient": "right", "labels": false, "title": null,
            "values": [-0.1,0,0.1,0.2,0.3,0.4,0.5,0.6,0.7,0.8,0.9,1,1.1,1.2,1.3,1.4],
            "tickSize": {"condition": {"test": "round(datum.value*10) % 2 == 0", "value": -6}, "value": -3}}},
        "stroke": {"field": "m", "type": "nominal", "scale": {"domain": ["Model ST", "Model LTM"], "range": ["#ff0000", "#0000ff"]},
          "legend": {"orient": "none", "legendX": 172.5, "legendY": 48, "title": null, "symbolType": "M-3.3,0H3.3", "symbolSize": 100, "symbolStrokeWidth": 2.5, "symbolFillColor": "transparent", "labelOffset": 13.5, "labelFontSize": 14, "padding": 0, "rowPadding": 4.3,
            "labelExpr": "datum.label + ' O1s'"}}
      }
    },
    {
      "data": {"values": [{}]},
      "mark": {"type": "text", "fontSize": 20, "align": "left", "baseline": "alphabetic", "color": "#000"},
      "encoding": {"x": {"datum": -0.3, "type": "quantitative", "axis": null}, "y": {"datum": 1.24, "type": "quantitative", "axis": null}, "text": {"value": "b)"}}
    }
  ],
  "resolve": {"axis": {"x": "independent", "y": "independent"}}
}
],
"resolve": {"scale": {"fill": "independent", "stroke": "independent"}, "legend": {"fill": "independent", "stroke": "independent"}}
}
